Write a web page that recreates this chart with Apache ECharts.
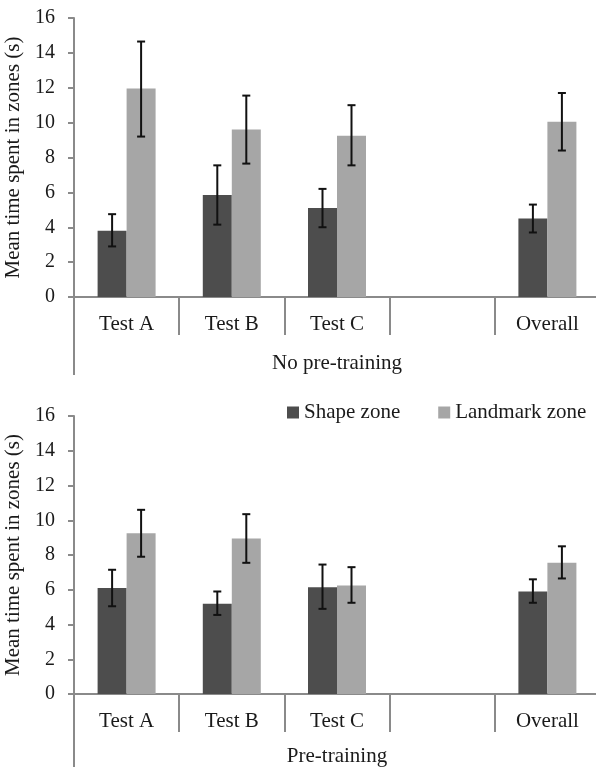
<!DOCTYPE html>
<html>
<head>
<meta charset="utf-8">
<script src="https://cdn.jsdelivr.net/npm/echarts@6/dist/echarts.min.js"></script>
<style>
html,body{margin:0;padding:0;background:#fff;}
#chart{width:596px;height:767px;}
</style>
</head>
<body>
<div id="chart"></div>
<script>
// ---- data ----
const categories = ['Test A', 'Test B', 'Test C', '', 'Overall'];
const seriesNames = ['Shape zone', 'Landmark zone'];
const groupTop = 'No pre-training';
const groupBottom = 'Pre-training';
const yTicks = [0, 2, 4, 6, 8, 10, 12, 14, 16];

// No pre-training
const shapeNoPre      = [3.8, 5.85, 5.1, null, 4.5];
const shapeNoPreLow   = [2.9, 4.15, 4.0, null, 3.7];
const shapeNoPreHigh  = [4.75, 7.55, 6.2, null, 5.3];
const landNoPre       = [11.95, 9.6, 9.25, null, 10.05];
const landNoPreLow    = [9.2, 7.65, 7.55, null, 8.4];
const landNoPreHigh   = [14.65, 11.55, 11.0, null, 11.7];

// Pre-training
const shapePre        = [6.1, 5.2, 6.15, null, 5.9];
const shapePreLow     = [5.05, 4.55, 4.9, null, 5.25];
const shapePreHigh    = [7.15, 5.9, 7.45, null, 6.6];
const landPre         = [9.25, 8.95, 6.25, null, 7.55];
const landPreLow      = [7.9, 7.55, 5.25, null, 6.65];
const landPreHigh     = [10.6, 10.35, 7.3, null, 8.5];

// ---- style ----
const FONT = 'Liberation Serif';
const DARK = '#4d4d4d';
const LIGHT = '#a6a6a6';
const AXIS = '#8a8a8a';
const TEXT = '#1a1a1a';
const BAR_W = 29;
const FS = 21;

function errData(lo, hi) {
  const out = [];
  lo.forEach((v, i) => { if (v != null && hi[i] != null) out.push([i, v, hi[i]]); });
  return out;
}

function errSeries(name, idx, lo, hi, offset) {
  return {
    name: name, type: 'custom', xAxisIndex: idx, yAxisIndex: idx, z: 10,
    data: errData(lo, hi),
    encode: { x: 0, y: [1, 2] },
    silent: true,
    renderItem: function (params, api) {
      const a = api.coord([api.value(0), api.value(1)]);
      const b = api.coord([api.value(0), api.value(2)]);
      const x = a[0] + offset;
      const cap = 4;
      const st = { stroke: '#111', lineWidth: 2 };
      return {
        type: 'group',
        children: [
          { type: 'line', shape: { x1: x, y1: a[1], x2: x, y2: b[1] }, style: st },
          { type: 'line', shape: { x1: x - cap, y1: a[1], x2: x + cap, y2: a[1] }, style: st },
          { type: 'line', shape: { x1: x - cap, y1: b[1], x2: x + cap, y2: b[1] }, style: st }
        ]
      };
    }
  };
}

function catAxis(idx) {
  return {
    type: 'category', gridIndex: idx, data: categories, position: 'bottom',
    axisLine: { show: true, lineStyle: { color: AXIS, width: 2 } },
    axisTick: { show: true, interval: 0, length: 38, lineStyle: { color: AXIS, width: 2 } },
    axisLabel: { interval: 0, margin: 17, fontFamily: FONT, fontSize: FS, color: TEXT }
  };
}
function groupAxis(idx, label, margin) {
  return {
    type: 'category', gridIndex: idx, data: [label], position: 'bottom',
    axisLine: { show: false },
    axisTick: { show: true, length: 78, lineStyle: { color: AXIS, width: 2 } },
    axisLabel: { margin: margin, fontFamily: FONT, fontSize: FS, color: TEXT }
  };
}
function valAxis(idx) {
  return {
    type: 'value', gridIndex: idx, min: yTicks[0], max: yTicks[yTicks.length - 1], interval: 2,
    name: 'Mean time spent in zones (s)', nameLocation: 'middle', nameGap: 43,
    nameTextStyle: { fontFamily: FONT, fontSize: FS, color: TEXT },
    axisLine: { show: true, lineStyle: { color: AXIS, width: 2 } },
    axisTick: { show: true, length: 6, lineStyle: { color: AXIS, width: 2 } },
    splitLine: { show: false },
    axisLabel: { margin: 19, fontFamily: FONT, fontSize: 20, color: TEXT }
  };
}
function barSeries(name, idx, data, color) {
  return {
    name: name, type: 'bar', xAxisIndex: idx, yAxisIndex: idx,
    data: data, barWidth: BAR_W, barGap: '0%',
    itemStyle: { color: color }, silent: true
  };
}

const chart = echarts.init(document.getElementById('chart'));
chart.setOption({
  backgroundColor: '#ffffff',
  animation: false,
  grid: [
    { left: 74, top: 18, width: 526, height: 279, outerBoundsMode: 'none', containLabel: false },
    { left: 74, top: 416, width: 526, height: 278, outerBoundsMode: 'none', containLabel: false }
  ],
  legend: {
    data: seriesNames, left: 287, top: 402, icon: 'rect', orient: 'horizontal',
    padding: 0, width: 340,
    itemWidth: 12, itemHeight: 12, itemGap: 38,
    textStyle: { fontFamily: FONT, fontSize: FS, color: TEXT }
  },
  xAxis: [catAxis(0), catAxis(1), groupAxis(0, groupTop, 56), groupAxis(1, groupBottom, 52)],
  yAxis: [valAxis(0), valAxis(1)],
  series: [
    barSeries(seriesNames[0], 0, shapeNoPre, DARK),
    barSeries(seriesNames[1], 0, landNoPre, LIGHT),
    barSeries(seriesNames[0], 1, shapePre, DARK),
    barSeries(seriesNames[1], 1, landPre, LIGHT),
    errSeries('err1', 0, shapeNoPreLow, shapeNoPreHigh, -BAR_W / 2),
    errSeries('err2', 0, landNoPreLow, landNoPreHigh, BAR_W / 2),
    errSeries('err3', 1, shapePreLow, shapePreHigh, -BAR_W / 2),
    errSeries('err4', 1, landPreLow, landPreHigh, BAR_W / 2)
  ]
});
</script>
</body>
</html>
